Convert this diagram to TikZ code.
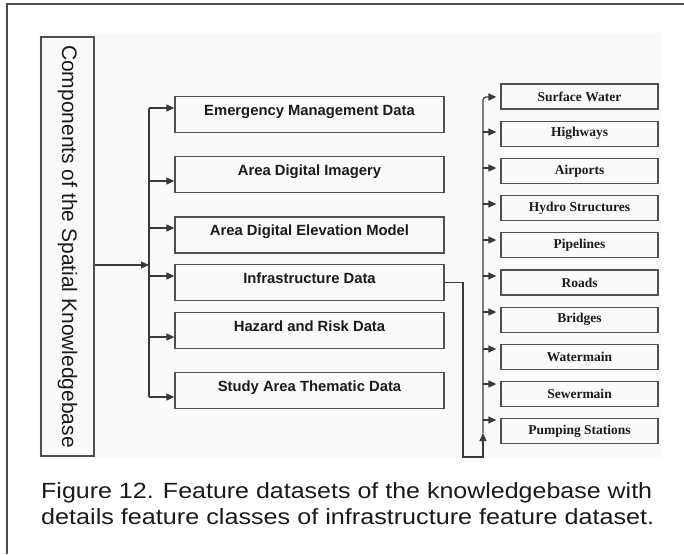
\documentclass[tikz,border=0pt]{standalone}
\usepackage{fontspec}
\setmainfont{Liberation Serif}
\setsansfont{Liberation Sans}
\newfontfamily\capfont{Liberation Sans}
\usetikzlibrary{arrows.meta}
\definecolor{ink}{HTML}{1A1A1A}
\definecolor{wirec}{HTML}{3A3A3A}
\definecolor{boxc}{HTML}{505050}

\begin{document}
\begin{tikzpicture}[x=1pt,y=-1pt,
  wire/.style={draw=wirec, line width=1.2pt},
  tip/.style={-{Triangle[length=8pt,width=7pt]}},
  rootbox/.style={draw=boxc, line width=1.3pt, minimum width=53pt, minimum height=419pt, inner sep=0pt},
  midbox/.style={draw=boxc, line width=1.3pt, minimum width=269pt, minimum height=36pt, inner sep=0pt,
    font=\sffamily\bfseries\fontsize{14.8}{16}\selectfont, text=ink,
    text height=10.6pt, text depth=9.6pt},
  leafbox/.style={draw=boxc, line width=1.3pt, minimum width=157pt, minimum height=25pt, inner sep=0pt,
    font=\rmfamily\bfseries\fontsize{13.5}{15}\selectfont, text=ink},
  captext/.style={anchor=base west, inner sep=0pt, text=ink, font=\capfont\fontsize{22}{26}\selectfont}
]
\useasboundingbox (0,0) rectangle (684,554);

% page frame and the faint panel behind the chart
\draw[draw=black!70, line width=1.5pt] (7,554) -- (7,4) -- (684,4);
\fill[black!2] (38,33) rectangle (661,458);

% root of the knowledgebase
\node[rootbox] (kb) at (67.5,246.5) {};
\node[rotate=-90, font=\sffamily\fontsize{21}{24}\selectfont, text=ink] (kbt) at (kb.center) {Components of the Spatial Knowledgebase};

% feature datasets
\node[midbox] (m1) at (309.5,114.5) {Emergency Management Data};
\node[midbox] (m2) at (309.5,174.5) {Area Digital Imagery};
\node[midbox] (m3) at (309.5,235)   {Area Digital Elevation Model};
\node[midbox] (m4) at (309.5,282.8) {Infrastructure Data};
\node[midbox] (m5) at (309.5,330.5) {Hazard and Risk Data};
\node[midbox] (m6) at (309.5,390.5) {Study Area Thematic Data};

% feature classes of the infrastructure dataset
\node[leafbox] (f1)  at (579.5,96.5)  {Surface Water};
\node[leafbox] (f2)  at (579.5,133.7) {Highways};
\node[leafbox] (f3)  at (579.5,170.9) {Airports};
\node[leafbox] (f4)  at (579.5,208.1) {Hydro Structures};
\node[leafbox] (f5)  at (579.5,245.3) {Pipelines};
\node[leafbox] (f6)  at (579.5,282.5) {Roads};
\node[leafbox] (f7)  at (579.5,319.7) {Bridges};
\node[leafbox] (f8)  at (579.5,356.9) {Watermain};
\node[leafbox] (f9)  at (579.5,394.1) {Sewermain};
\node[leafbox] (f10) at (579.5,431.3) {Pumping Stations};

% left bus
\coordinate (bj) at (149,265);
\coordinate (b1) at (149,108);
\coordinate (b2) at (149,181);
\coordinate (b3) at (149,228);
\coordinate (b4) at (149,276);
\coordinate (b5) at (149,337);
\coordinate (b6) at (149,397);
\draw[wire] (b1) -- (b6);
\draw[wire,tip] (kb.east |- bj) -- (bj);
\foreach \i in {1,...,6} {
  \draw[wire,tip] (b\i) -- (b\i -| m\i.west);
}

% right bus
\coordinate (r1)  at (483,97);
\coordinate (r2)  at (483,132);
\coordinate (r3)  at (483,168);
\coordinate (r4)  at (483,204);
\coordinate (r5)  at (483,240);
\coordinate (r6)  at (483,276);
\coordinate (r7)  at (483,312);
\coordinate (r8)  at (483,349);
\coordinate (r9)  at (483,384);
\coordinate (r10) at (483,420);
\coordinate (rb)  at (483,433);
\coordinate (c1)  at (463,457);
\coordinate (c2)  at (483,457);
\draw[wire,tip] (m4.east) -| (c1) -- (c2) -- (rb);
\draw[wire,tip,rounded corners=3pt] (rb) -- (r1) -- ([xshift=-4pt]r1 -| f1.west);
\foreach \i in {2,...,10} {
  \draw[wire,tip] (r\i) -- ([xshift=-4pt]r\i -| f\i.west);
}

% caption
\node[captext] (cap1) at (41,498) {\resizebox{611pt}{\height}{Figure 12. Feature datasets of the knowledgebase with}};
\node[captext] (cap2) at (41,524) {\resizebox{613pt}{\height}{details feature classes of infrastructure feature dataset.}};
\end{tikzpicture}
\end{document}
